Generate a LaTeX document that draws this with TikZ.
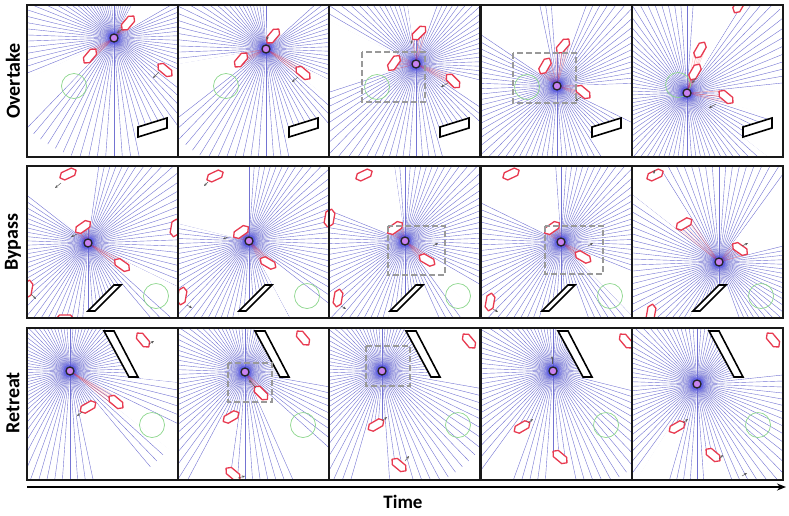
\documentclass[tikz,border=0pt]{standalone}
\usepackage{fontspec}
\setmainfont{Carlito}
\usetikzlibrary{calc,arrows.meta}
\definecolor{rayblue}{RGB}{115,115,210}
\definecolor{agentred}{RGB}{232,58,80}
\definecolor{robotfill}{RGB}{200,130,240}
\definecolor{goalgreen}{RGB}{140,215,140}
\tikzset{
 ray/.style={rayblue, line width=0.4pt},
 agentshape/.style={agentred, line width=1.3pt, fill=white, line join=round},
 redfan/.style={red!80, line width=0.35pt, opacity=0.3},
 goal/.style={goalgreen, line width=0.7pt},
 obst/.style={black, line width=1.6pt, fill=white, line join=miter},
 focus/.style={gray!80, line width=1.8pt, dash pattern=on 6pt off 3pt},
 vel/.style={gray!70!black, line width=0.5pt, -{Stealth[length=3pt,width=2.5pt]}},
 frame/.style={black!90, line width=1.2pt},
 rowlabel/.style={font=\fontsize{20}{20}\selectfont\bfseries, rotate=90},
}
\newcommand\goalc[2]{\draw[goal] (#1,#2) circle (12.5);}
\newcommand\focusbox[4]{\draw[focus] (#1,#2) rectangle (#3,#4);}
\newcommand\velarrow[4]{\draw[vel] (#1,#2) -- (#3,#4);}
% #1 x0, #2 y0, #3 rx, #4 ry, #5 agents x/y/angle/fan, #6 obstacle 8 numbers, #7 extras
\newcommand\drawpanel[7]{%
\begin{scope}[shift={(#1,#2)}]
 \begin{scope}
  \clip (0,0) rectangle (151,152);
  \coordinate (R) at (#3,#4);
  \foreach \a in {2,6,...,358} {\draw[ray] (R) -- ++(\a:125);}
  \foreach \xa/\ya/\xb/\yb/\xc/\yc/\xd/\yd in {#6} {
    \coordinate (o1) at (\xa,\ya);
    \coordinate (o2) at (\xb,\yb);
    \coordinate (o3) at (\xc,\yc);
    \coordinate (o4) at (\xd,\yd);
    \foreach \i/\j in {1/2,2/3,3/4,4/1} {\fill[white] (o\i) -- (o\j) -- ($(R)!15!(o\j)$) -- ($(R)!15!(o\i)$) -- cycle;}
  }
  \foreach \ax/\ay/\agang/\agfan [count=\n] in {#5} {
    \begin{scope}[shift={(\ax,\ay)}, rotate=\agang]
      \coordinate (h\n-1) at (-9,0);
      \coordinate (h\n-2) at (-5.5,-4);
      \coordinate (h\n-3) at (5.5,-4);
      \coordinate (h\n-4) at (9,0);
      \coordinate (h\n-5) at (5.5,4);
      \coordinate (h\n-6) at (-5.5,4);
    \end{scope}
    \foreach \i/\j in {1/2,2/3,3/4,4/5,5/6,6/1} {\fill[white] (h\n-\i) -- (h\n-\j) -- ($(R)!15!(h\n-\j)$) -- ($(R)!15!(h\n-\i)$) -- cycle;}
  }
  \foreach \ax/\ay/\agang/\agfan [count=\n] in {#5} {
    \ifnum\agfan=1
      \foreach \k in {1,...,6} {\draw[redfan] (R) -- (h\n-\k);}
      \draw[redfan] (R) -- (\ax,\ay);
    \fi
  }
  \foreach \r/\o in {9/0.10,6.5/0.14,5/0.2} {\fill[blue, opacity=\o] (R) circle (\r);}
  \draw[obst] (o1) -- (o2) -- (o3) -- (o4) -- cycle;
  \foreach \ax/\ay/\agang/\agfan [count=\n] in {#5} {
    \draw[agentshape] (h\n-1) -- (h\n-2) -- (h\n-3) -- (h\n-4) -- (h\n-5) -- (h\n-6) -- cycle;
  }
  #7
  \draw[line width=1.3pt, black!85, fill=robotfill] (R) circle (4);
 \end{scope}
 \draw[frame] (0,0) rectangle (151,152);
\end{scope}
}
\begin{document}
\begin{tikzpicture}[x=1pt,y=-1pt]
\useasboundingbox (0,0) rectangle (789,515);
% ---------------- Row 1: Overtake
\drawpanel{27}{5}{87}{33}{101/18/50/1, 63/51/50/1, 138/65/-40/0}{111/132/111/122/140/113/140/123}
 {\goalc{47}{81}\velarrow{132}{67}{126}{73}\velarrow{95}{24}{90}{28}}
\drawpanel{178}{5}{88}{44}{95/31/50/1, 63/55/50/1, 125/68/-40/1}{111/132/111/122/140/113/140/123}
 {\goalc{48}{81}\velarrow{120}{72}{114}{77}\velarrow{90}{30}{89}{35}}
\drawpanel{329}{5}{87}{59}{90/28/45/1, 65/58/55/1, 124/76/-45/1}{111/132/111/122/140/113/140/123}
 {\goalc{48}{82}\focusbox{33}{47}{96}{97}\velarrow{83}{35}{82}{39}\velarrow{119}{78}{112}{82}}
\drawpanel{481}{5}{76}{81}{64/61/60/1, 82/41/50/1, 102/87/-40/1}{111/132/111/122/140/113/140/123}
 {\goalc{46}{82}\focusbox{32}{48}{95}{98}\velarrow{100}{92}{94}{96}}
\drawpanel{632}{5}{55}{88}{68/45/60/1, 63/67/60/1, 94/92/-40/1, 107/0/60/0}{111/132/111/122/140/113/140/123}
 {\goalc{46}{80}\velarrow{84}{99}{77}{103}\velarrow{64}{73}{60}{78}}
% ---------------- Row 2: Bypass
\drawpanel{27}{166}{61}{77}{41/8/25/0, 56/61/35/1, 95/99/-35/1, 148/62/80/0, 1/123/80/0, 38/153/0/0}{61/145/68/145/94/119/87/119}
 {\goalc{129}{130}\velarrow{34}{17}{28}{22}\velarrow{4}{128}{9}{133}\velarrow{50}{68}{44}{71}}
\drawpanel{178}{166}{71}{75}{37/10/25/0, 63/66/35/1, 90/97/-30/1, 4/130/80/0, 151/52/80/0}{61/145/68/145/94/119/87/119}
 {\goalc{129}{130}\velarrow{30}{16}{26}{20}\velarrow{50}{71}{45}{73}\velarrow{9}{139}{14}{142}}
\drawpanel{329}{166}{76}{75}{35/9/25/0, 66/62/35/1, 98/94/-30/1, 9/132/80/0, 1/52/80/0}{61/145/68/145/94/119/87/119}
 {\goalc{129}{130}\focusbox{59}{60}{116}{109}\velarrow{104}{80}{109}{77}\velarrow{12}{140}{17}{143}}
\drawpanel{481}{166}{80}{76}{30/8/25/0, 71/62/35/1, 102/91/-30/1, 9/136/80/0}{61/145/68/145/94/119/87/119}
 {\goalc{129}{130}\focusbox{64}{60}{122}{108}\velarrow{107}{80}{112}{77}\velarrow{12}{143}{17}{146}}
\drawpanel{632}{166}{87}{96}{23/9/25/0, 52/58/30/1, 108/83/-35/1, 19/147/80/0}{61/145/68/145/94/119/87/119}
 {\goalc{129}{130}\velarrow{110}{80}{116}{77}\velarrow{22}{4}{22}{8}}
% ---------------- Row 3: Retreat
\drawpanel{27}{328}{43}{43}{116/12/-50/0, 89/74/-40/1, 61/79/30/0}{77/3/87/3/111/49/102/49}
 {\goalc{125}{97}\velarrow{122}{16}{127}{13}\velarrow{55}{84}{50}{88}}
\drawpanel{178}{328}{67}{44}{125/10/-50/0, 83/65/-45/1, 53/89/30/0, 55/146/-40/0}{77/3/87/3/111/49/102/49}
 {\goalc{125}{97}\focusbox{50}{35}{94}{74}\velarrow{78}{60}{71}{52}\velarrow{60}{150}{67}{148}}
\drawpanel{329}{328}{53}{43}{140/13/-50/0, 47/97/30/0, 70/137/-40/0}{77/3/87/3/111/49/102/49}
 {\goalc{129}{97}\focusbox{37}{18}{81}{58}\velarrow{53}{93}{58}{89}\velarrow{76}{133}{80}{128}}
\drawpanel{481}{328}{72}{43}{145/13/-50/0, 41/99/30/0, 79/129/-40/0}{77/3/87/3/111/49/102/49}
 {\goalc{125}{97}\velarrow{71}{36}{71}{28}\velarrow{47}{95}{52}{91}}
\drawpanel{632}{328}{65}{56}{141/12/-50/0, 45/99/30/0, 81/127/-40/0}{77/3/87/3/111/49/102/49}
 {\goalc{126}{97}\velarrow{51}{95}{56}{91}\velarrow{87}{131}{91}{127}\velarrow{110}{148}{115}{145}}
% ---------------- labels and time axis
\node[rowlabel] (lab1) at (13,81) {Overtake};
\node[rowlabel] (lab2) at (13,242) {Bypass};
\node[rowlabel] (lab3) at (13,403) {Retreat};
\coordinate (tstart) at (27,487);
\coordinate (tend) at (786,487);
\draw[line width=1.6pt, -{Stealth[length=9pt,width=7pt]}] (tstart) -- (tend);
\node[font=\fontsize{19}{19}\selectfont\bfseries] (time) at (403,502) {Time};
\end{tikzpicture}
\end{document}
